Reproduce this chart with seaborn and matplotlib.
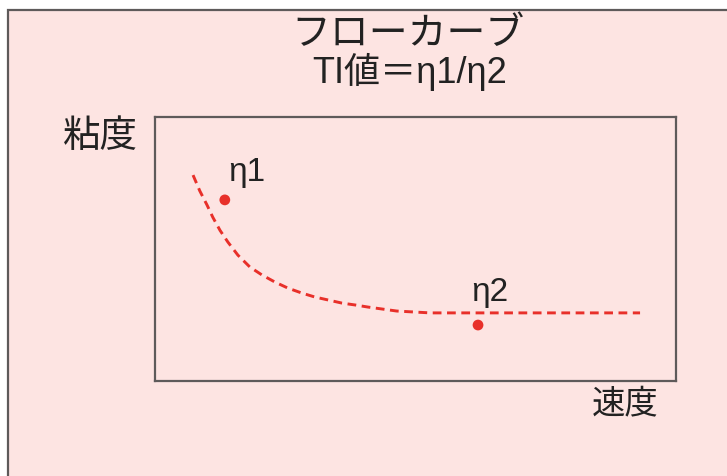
import matplotlib
matplotlib.use("Agg")
import matplotlib.pyplot as plt
from matplotlib.patches import Rectangle
import seaborn as sns
import pandas as pd

# Flow curve: viscosity falling with shear rate (arbitrary units, 0-100)
speed = [7.3, 8.6, 10.0, 11.1, 12.5, 14.0, 15.9, 18.2, 20.5, 23.0, 25.5, 28.2,
         30.7, 33.2, 35.9, 38.4, 40.9, 46.4, 52.8, 61.8, 70.6, 93.1]
viscosity = [78.0, 72.0, 66.6, 62.0, 57.0, 52.6, 47.7, 43.2, 40.2, 37.5, 35.2, 33.3,
             31.8, 30.7, 29.5, 28.8, 28.0, 26.5, 25.8, 25.8, 25.8, 25.8]

# Measurement points
point_names = ["η1", "η2"]
point_speed = [13.4, 62.0]
point_visc = [68.6, 21.2]

title_lines = ["フローカーブ", "TI値＝η1/η2"]
y_label = "粘度"
x_label = "速度"

sns.set_theme(style="white")
plt.rcParams["font.family"] = ["Liberation Sans", "Noto Sans CJK JP", "DejaVu Sans"]

PINK = "#fde4e2"
RED = "#e8302a"
INK = "#222222"
FRAME = "#5e5a5a"

W, H = 727, 476
fig = plt.figure(figsize=(W / 100, H / 100), dpi=100, facecolor="white")

# Framed pink panel behind everything
fig.patches.append(Rectangle((8 / W, -0.1), 1.2, 1.1 - 10 / H,
                             transform=fig.transFigure, facecolor=PINK,
                             edgecolor=FRAME, linewidth=1.6, zorder=-5))

ax = fig.add_axes([155 / W, 1 - 381 / H, (676 - 155) / W, (381 - 117) / H])
ax.set_zorder(1)
ax.set_facecolor(PINK)
for s in ax.spines.values():
    s.set_color(FRAME)
    s.set_linewidth(1.6)

curve = pd.DataFrame({"speed": speed, "viscosity": viscosity})
pts = pd.DataFrame({"speed": point_speed, "viscosity": point_visc, "name": point_names})

sns.lineplot(data=curve, x="speed", y="viscosity", ax=ax, color=RED,
             linewidth=2.1, sort=False)
ax.lines[0].set_dashes((3.0, 1.9))
sns.scatterplot(data=pts, x="speed", y="viscosity", ax=ax, color=RED,
                s=60, edgecolor="none", zorder=3)

# Labels placed above and to the right of each point
label_dx = [4.3, 2.3]
label_dy = [10.2, 12.5]
for name, x, y, dx, dy in zip(point_names, point_speed, point_visc, label_dx, label_dy):
    ax.text(x + dx, y + dy, name, fontsize=24, color=INK,
            ha="center", va="center")

ax.set_xlim(0, 100)
ax.set_ylim(0, 100)
ax.set_xticks([])
ax.set_yticks([])
ax.set_xlabel("")
ax.set_ylabel("")

fig.text(408 / W, 1 - 35 / H, title_lines[0], fontsize=28, color=INK,
         ha="center", va="center")
fig.text(410 / W, 1 - 72 / H, title_lines[1], fontsize=26, color=INK,
         ha="center", va="center")
fig.text(100 / W, 1 - 137 / H, y_label, fontsize=27, color=INK,
         ha="center", va="center")
fig.text(625 / W, 1 - 405 / H, x_label, fontsize=24, color=INK,
         ha="center", va="center")

fig.savefig("out.png", dpi=100, facecolor="white")
